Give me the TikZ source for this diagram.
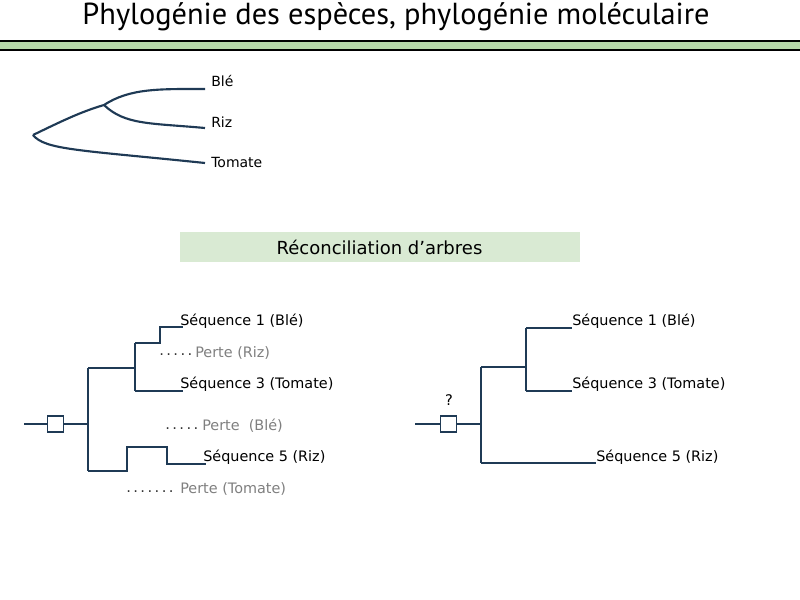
\documentclass[tikz,border=0pt]{standalone}
\usepackage{fontspec}
\setmainfont{DejaVu Sans}
\newfontfamily\titlefont{PT Sans}
\definecolor{br}{HTML}{1F3A55}
\definecolor{bar}{HTML}{B6D7A8}
\definecolor{boxg}{HTML}{D9EAD3}
\definecolor{lossg}{HTML}{7F7F7F}
\begin{document}
\begin{tikzpicture}[x=0.75pt,y=-0.75pt,
  br/.style={draw=br,line width=1.6pt},
  lab/.style={anchor=west,inner sep=0pt,font=\fontsize{10.8}{12}\selectfont},
  loss/.style={lab,text=lossg},
  dots/.style={anchor=west,inner sep=0pt,font=\fontsize{11}{12}\selectfont,text=black!80}]
\useasboundingbox (0,0) rectangle (800,600);
\node[font=\titlefont\fontsize{22.8}{26}\selectfont] (title) at (396,17) {Phylogénie des espèces, phylogénie moléculaire};
\fill[bar] (0,41) rectangle (800,50);
\draw[line width=0.8pt] (0,41) -- (800,41) (0,50) -- (800,50);
% species tree
\coordinate (r) at (33,135); \coordinate (s) at (104,105);
\node[lab,font=\fontsize{10.5}{12}\selectfont] (ble) at (211,81) {Blé};
\node[lab,font=\fontsize{10.5}{12}\selectfont] (riz) at (211,122) {Riz};
\node[lab,font=\fontsize{10.5}{12}\selectfont] (tom) at (211,162) {Tomate};
\draw[br] (r) .. controls (60,122) and (80,112) .. (s);
\draw[br] (s) .. controls (130,88) and (160,89) .. (205,89);
\draw[br] (s) .. controls (125,125) and (150,123) .. (205,128);
\draw[br] (r) .. controls (45,150) and (80,150) .. (205,163);
\node[fill=boxg,minimum width=300pt,minimum height=22.5pt,inner sep=0pt,font=\fontsize{13.5}{15}\selectfont] (rec) at (379.5,247) {Réconciliation d\char"0027 arbres};
% left gene tree
\node[draw=br,line width=1.3pt,minimum size=12pt,inner sep=0pt] (bx) at (55.5,424) {};
\draw[br] (24,424) -- (bx.west) (bx.east) -- (88,424);
\draw[br] (88,368) -- (88,471);
\draw[br] (88,368) -- (135,368) (135,343) -- (135,391);
\draw[br] (135,343) -- (160,343) -- (160,327) -- (183,327);
\draw[br] (135,391) -- (183,391);
\draw[br] (88,471) -- (127,471) -- (127,447) -- (167,447) -- (167,464) -- (206,464);
\node[lab] (s1) at (180,321) {Séquence 1 (Blé)};
\node[dots] (d1) at (159,355) {.\,.\,.\,.\,.};
\node[loss] (p1) at (195,353) {Perte (Riz)};
\node[lab] (s3) at (180,384) {Séquence 3 (Tomate)};
\node[dots] (d2) at (165,429) {.\,.\,.\,.\,.};
\node[loss] (p2) at (202,426) {Perte\ \ (Blé)};
\node[lab] (s5) at (203,457) {Séquence 5 (Riz)};
\node[dots] (d3) at (126,492) {.\,.\,.\,.\,.\,.\,.};
\node[loss] (p3) at (180,489) {Perte (Tomate)};
% right gene tree
\node[draw=br,line width=1.3pt,minimum size=12pt,inner sep=0pt] (bx2) at (448.5,424) {};
\draw[br] (415,424) -- (bx2.west) (bx2.east) -- (481,424);
\draw[br] (481,367) -- (481,463);
\draw[br] (481,367) -- (526,367) (526,328) -- (526,391);
\draw[br] (526,328) -- (572,328) (526,391) -- (572,391);
\draw[br] (481,463) -- (596,463);
\node[font=\fontsize{11}{12}\selectfont] (q) at (449,400) {?};
\node[lab] (r1) at (572,321) {Séquence 1 (Blé)};
\node[lab] (r3) at (572,384) {Séquence 3 (Tomate)};
\node[lab] (r5) at (596,457) {Séquence 5 (Riz)};
\end{tikzpicture}
\end{document}
